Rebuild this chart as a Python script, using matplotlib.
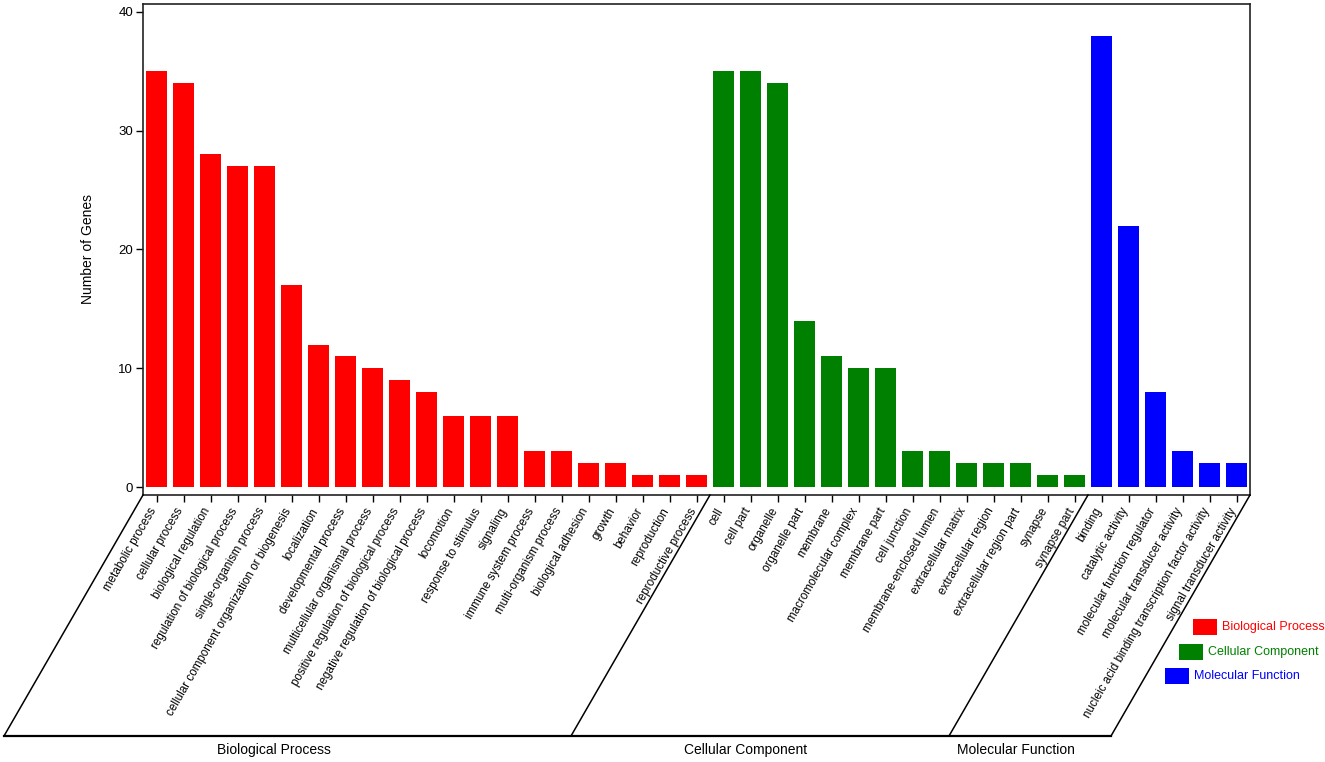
import matplotlib
matplotlib.use('Agg')
import matplotlib.pyplot as plt
from matplotlib.lines import Line2D
from matplotlib.patches import Rectangle
import numpy as np

plt.rcParams['font.family'] = ['Liberation Sans', 'DejaVu Sans']

# Dados
bp_terms = ['metabolic process', 'cellular process', 'biological regulation',
            'regulation of biological process', 'single-organism process',
            'cellular component organization or biogenesis', 'localization',
            'developmental process', 'multicellular organismal process',
            'positive regulation of biological process',
            'negative regulation of biological process', 'locomotion',
            'response to stimulus', 'signaling', 'immune system process',
            'multi-organism process', 'biological adhesion', 'growth',
            'behavior', 'reproduction', 'reproductive process']
bp_genes = [35, 34, 28, 27, 27, 17, 12, 11, 10, 9, 8, 6, 6, 6, 3, 3, 2, 2, 1, 1, 1]

cc_terms = ['cell', 'cell part', 'organelle', 'organelle part', 'membrane',
            'macromolecular complex', 'membrane part', 'cell junction',
            'membrane-enclosed lumen', 'extracellular matrix',
            'extracellular region', 'extracellular region part', 'synapse',
            'synapse part']
cc_genes = [35, 35, 34, 14, 11, 10, 10, 3, 3, 2, 2, 2, 1, 1]

mf_terms = ['binding', 'catalytic activity', 'molecular function regulator',
            'molecular transducer activity',
            'nucleic acid binding transcription factor activity',
            'signal transducer activity']
mf_genes = [38, 22, 8, 3, 2, 2]

groups = ['Biological Process', 'Cellular Component', 'Molecular Function']
cores = ['#FF0000', '#008000', '#0000FF']
termos = [bp_terms, cc_terms, mf_terms]
genes = [bp_genes, cc_genes, mf_genes]

# Figura
fig = plt.figure(figsize=(13.25, 7.62), dpi=100)
ax = fig.add_axes([143/1325, 1-495/762, (1250-143)/1325, (495-4)/762])

todos_termos = []
inicio = 0
limites = [-0.5]
for nome, t, g, c in zip(groups, termos, genes, cores):
    x = np.arange(inicio, inicio + len(t))
    ax.bar(x, g, width=0.8, color=c, edgecolor='none')
    todos_termos += t
    inicio += len(t)
    limites.append(inicio - 0.5)

ax.set_xlim(-0.5, len(todos_termos) - 0.5)
ax.set_ylim(-0.67, 40.67)
ax.set_yticks([0, 10, 20, 30, 40])
ax.set_xticks(np.arange(len(todos_termos)))
ax.set_xticklabels(todos_termos, rotation=60, ha='right', va='baseline',
                   rotation_mode='anchor', fontsize=8.4)
ax.tick_params(axis='x', length=5, width=1, pad=6)
ax.tick_params(axis='y', length=5, width=1, labelsize=9.5, pad=2)
for s in ax.spines.values():
    s.set_linewidth(1.2)
    s.set_color('#222222')
ax.set_ylabel('Number of Genes', fontsize=10, labelpad=17)

# Linhas das chaves inferiores (em pixels)
dx, dy = 139, 241
inv = fig.transFigure.inverted()
y0 = ax.get_ylim()[0]
fundo = []
for b in limites:
    p0 = ax.transData.transform((b, y0))
    p1 = (p0[0] - dx, p0[1] - dy)
    f0, f1 = inv.transform(p0), inv.transform(p1)
    fig.add_artist(Line2D([f0[0], f1[0]], [f0[1], f1[1]], color='black', lw=1.1))
    fundo.append(f1)
fig.add_artist(Line2D([fundo[0][0], fundo[-1][0]], [fundo[0][1], fundo[-1][1]],
                      color='black', lw=1.6))

# Nomes dos grupos
for i, nome in enumerate(groups):
    meio = (limites[i] + limites[i + 1]) / 2
    p = ax.transData.transform((meio, y0))
    f = inv.transform((p[0] - dx - 14, p[1] - dy - 14))
    fig.text(f[0], f[1], nome, ha='center', va='center', fontsize=10)

# Legenda
leg_x = [1193, 1179, 1165]
leg_y = [627, 652, 676]
for nome, c, lx, ly in zip(groups, cores, leg_x, leg_y):
    fig.add_artist(Rectangle((lx/1325, 1-(ly+8)/762), 24/1325, 16/762,
                             facecolor=c, edgecolor='none', transform=fig.transFigure))
    fig.text((lx+29)/1325, 1-ly/762, nome, color=c, ha='left', va='center', fontsize=9)

fig.savefig('out.png', dpi=100)
